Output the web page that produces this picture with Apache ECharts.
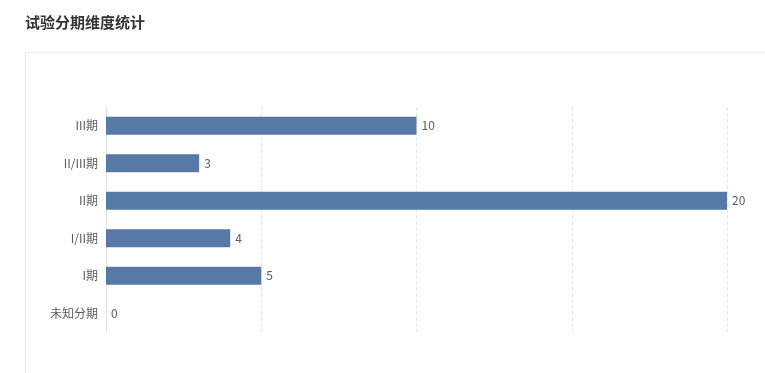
<!DOCTYPE html>
<html>
<head>
<meta charset="utf-8">
<script src="https://cdn.jsdelivr.net/npm/echarts@6/dist/echarts.min.js"></script>
<style>
html,body{margin:0;padding:0;background:#fff;}
#c{width:765px;height:373px;}
</style>
</head>
<body>
<div id="c"></div>
<script>
const titleText = '试验分期维度统计';
const categories = ['未知分期', 'I期', 'I/II期', 'II期', 'II/III期', 'III期'];
const values = [0, 5, 4, 20, 3, 10];
const axisMax = 20;
const axisInterval = 5;

const chart = echarts.init(document.getElementById('c'), null, {renderer: 'canvas'});
chart.setOption({
  backgroundColor: '#fff',
  animation: false,
  title: {
    text: titleText,
    left: 20,
    top: 10,
    textStyle: {fontSize: 15, fontWeight: 'bold', color: '#333', fontFamily: '"Noto Sans CJK SC", sans-serif'}
  },
  graphic: [
    {type: 'line', shape: {x1: 25.5, y1: 52.5, x2: 765, y2: 52.5}, style: {stroke: '#e8e8e8', lineWidth: 1}},
    {type: 'line', shape: {x1: 25.5, y1: 52.5, x2: 25.5, y2: 373}, style: {stroke: '#e8e8e8', lineWidth: 1}}
  ],
  grid: {left: 106, right: 38, top: 107, bottom: 41, containLabel: false},
  xAxis: {
    type: 'value',
    min: 0,
    max: axisMax,
    interval: axisInterval,
    axisLabel: {show: false},
    axisLine: {show: false},
    axisTick: {show: false},
    splitLine: {show: true, lineStyle: {type: 'dashed', color: '#e6e6e6'}}
  },
  yAxis: {
    type: 'category',
    data: categories,
    axisLine: {show: true, lineStyle: {color: '#e0e0e6'}},
    axisTick: {show: false},
    axisLabel: {color: '#5c5c5c', fontSize: 12, margin: 8, fontFamily: '"Noto Sans CJK SC", sans-serif'}
  },
  series: [{
    type: 'bar',
    data: values,
    barWidth: 18,
    itemStyle: {color: '#5779a6'},
    label: {show: true, position: 'right', color: '#5c5c5c', fontSize: 12, distance: 5, fontFamily: '"Noto Sans CJK SC", sans-serif'}
  }]
});
</script>
</body>
</html>
